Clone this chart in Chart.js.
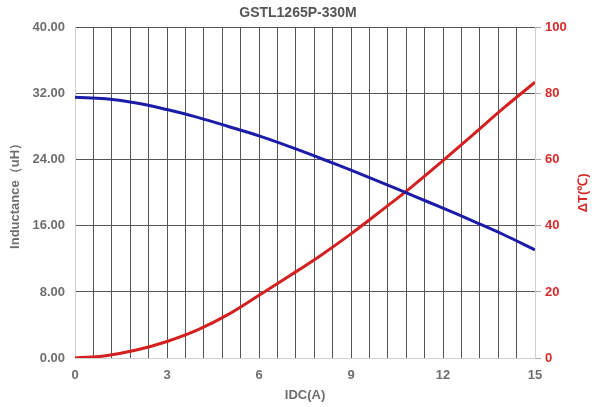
<!DOCTYPE html>
<html>
<head>
<meta charset="utf-8">
<script src="https://cdn.jsdelivr.net/npm/chart.js@4/dist/chart.umd.min.js"></script>
<style>
  html, body { margin: 0; padding: 0; background: #fff; }
  #wrap { width: 596px; height: 407px; }
</style>
</head>
<body>
<div id="wrap"><canvas id="chart" width="596" height="407"></canvas></div>
<script>
const idc = [0, 1, 2, 3, 4, 5, 6, 7, 8, 9, 10, 11, 12, 13, 14, 15];
const inductance = [31.6, 31.4, 30.9, 30.1, 29.15, 28.05, 26.9, 25.6, 24.2, 22.75, 21.25, 19.7, 18.15, 16.55, 14.9, 13.1];
const deltaT = [0, 0.7, 2.4, 5.0, 8.5, 13.2, 19.0, 24.9, 31.0, 37.6, 44.7, 52.0, 59.8, 67.8, 75.9, 83.5];

const gray = '#6e6e6e';
const red = '#d42a2a';
const font = { family: 'Liberation Sans', size: 13, weight: 'bold' };

// the right axis title reads bottom-to-top in the original
const rightTitle = {
  id: 'rightTitle',
  afterDraw(chart) {
    const c = chart.ctx;
    const area = chart.chartArea;
    c.save();
    c.translate(583, (area.top + area.bottom) / 2);
    c.rotate(-Math.PI / 2);
    c.fillStyle = red;
    c.font = 'bold 13px "Liberation Sans"';
    c.textAlign = 'center';
    c.textBaseline = 'middle';
    c.fillText('ΔT(℃)', 0, 0);
    c.restore();
  }
};

const ctx = document.getElementById('chart').getContext('2d');

new Chart(ctx, {
  type: 'line',
  data: {
    datasets: [
      {
        label: 'Inductance',
        data: idc.map((x, i) => ({ x: x, y: inductance[i] })),
        borderColor: '#1c1ca8',
        borderWidth: 3,
        pointRadius: 0,
        tension: 0.4,
        yAxisID: 'y'
      },
      {
        label: 'ΔT',
        data: idc.map((x, i) => ({ x: x, y: deltaT[i] })),
        borderColor: '#d42020',
        borderWidth: 3,
        pointRadius: 0,
        tension: 0.4,
        yAxisID: 'y1'
      }
    ]
  },
  options: {
    responsive: false,
    animation: false,
    layout: { padding: 0 },
    plugins: {
      legend: { display: false },
      tooltip: { enabled: false },
      title: {
        display: true,
        text: 'GSTL1265P-330M',
        color: '#555',
        font: { family: 'Liberation Sans', size: 14, weight: 'bold' },
        padding: { top: 5, bottom: 6 }
      }
    },
    scales: {
      x: {
        type: 'linear',
        min: 0,
        max: 15,
        afterFit: (s) => { s.height = 49; },
        ticks: {
          stepSize: 0.6,
          autoSkip: false,
          maxRotation: 0,
          padding: 10,
          color: gray,
          font: font,
          callback: (v) => {
            const k = Math.round(v * 10);
            return k % 30 === 0 ? String(k / 10) : '';
          }
        },
        grid: {
          drawTicks: false,
          color: (c) => (c.index === 0 || c.index === 25) ? '#cfcfcf' : '#555'
        },
        border: { color: '#cfcfcf' },
        title: {
          display: true,
          text: 'IDC(A)',
          color: gray,
          font: font,
          padding: { top: 0, bottom: 4 }
        }
      },
      y: {
        position: 'left',
        min: 0,
        max: 40,
        afterFit: (s) => { s.width = 75; },
        ticks: {
          stepSize: 8,
          padding: 10,
          color: gray,
          font: font,
          callback: (v) => v.toFixed(2)
        },
        grid: {
          drawTicks: false,
          color: (c) => c.index === 0 ? '#cfcfcf' : '#555'
        },
        border: { color: '#cfcfcf' },
        title: {
          display: true,
          text: 'Inductance（uH）',
          color: gray,
          font: font,
          padding: { top: 8, bottom: 0 }
        }
      },
      y1: {
        position: 'right',
        min: 0,
        max: 100,
        afterFit: (s) => { s.width = 61; },
        ticks: {
          stepSize: 20,
          padding: 4,
          color: red,
          font: font,
          callback: (v) => String(v)
        },
        grid: {
          drawOnChartArea: false,
          tickLength: 6,
          color: '#aaa'
        },
        border: { color: '#cfcfcf' }
      }
    }
  },
  plugins: [rightTitle]
});
</script>
</body>
</html>
